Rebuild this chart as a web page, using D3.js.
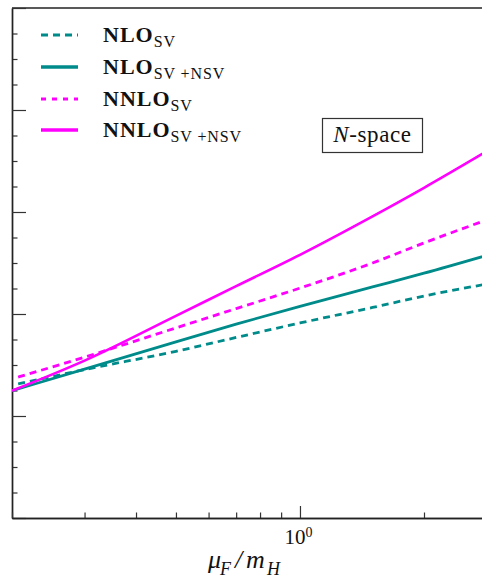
<!DOCTYPE html>
<html>
<head>
<meta charset="utf-8">
<script src="https://cdnjs.cloudflare.com/ajax/libs/d3/7.8.5/d3.min.js"></script>
<style>
body { margin: 0; background: #fff; }
svg { display: block; }
</style>
</head>
<body>
<div id="chart-area"></div>
<script>
// mu_F / m_H values where the curves were read
var muFull = [0.2, 0.3, 0.5, 0.7, 1.0, 1.5, 2.0, 3.0];
var muDash = [0.207, 0.3, 0.5, 0.7, 1.0, 1.5, 2.0, 3.0];

// series values (y axis labels are cut off in the reference, scale is relative)
var nloSV = [0.9314, 0.9455, 0.9634, 0.9770, 0.9912, 1.0064, 1.0176, 1.0311];
var nloSVNSV = [0.9248, 0.9460, 0.9727, 0.9901, 1.0075, 1.0265, 1.0400, 1.0603];
var nnloSV = [0.9382, 0.9577, 0.9864, 1.0053, 1.0254, 1.0500, 1.0697, 1.0957];
var nnloSVNSV = [0.9248, 0.9543, 0.9982, 1.0273, 1.0580, 1.0957, 1.1237, 1.1652];

var xMinorTicks = [0.2, 0.3, 0.4, 0.5, 0.6, 0.7, 0.8, 0.9, 2, 3];
var xMajorTicks = [1];
var yMajorTicks = [0.8, 0.9, 1.0, 1.1, 1.2, 1.3];
var yMinorTicks = d3.range(0.825, 1.3, 0.025).filter(function(v) {
    return Math.abs(v * 10 - Math.round(v * 10)) > 0.01;
});

var teal = "#008b8b", magenta = "#ff00ff";

var series = [
    { name: "NLO", sub: "SV", mu: muDash, vals: nloSV, color: teal, dash: "7,5", w: 2.8 },
    { name: "NLO", sub: "SV +NSV", mu: muFull, vals: nloSVNSV, color: teal, dash: null, w: 2.8 },
    { name: "NNLO", sub: "SV", mu: muDash, vals: nnloSV, color: magenta, dash: "7,5", w: 2.8 },
    { name: "NNLO", sub: "SV +NSV", mu: muFull, vals: nnloSVNSV, color: magenta, dash: null, w: 2.6 }
];

var W = 482, H = 581;
var plotLeft = 12, plotTop = 8, plotBottom = 518;
var plotRight = plotLeft + 412 * Math.log10(3 / 0.2);

var svg = d3.select("#chart-area").append("svg")
    .attr("width", W)
    .attr("height", H);

var x = d3.scaleLog().domain([0.2, 3]).range([plotLeft, plotRight]);
var y = d3.scaleLinear().domain([0.8, 1.3]).range([plotBottom, plotTop]);

svg.append("clipPath").attr("id", "plot-clip")
    .append("rect")
    .attr("x", plotLeft).attr("y", plotTop)
    .attr("width", plotRight - plotLeft).attr("height", plotBottom - plotTop);

// frame top line
svg.append("line")
    .attr("x1", plotLeft).attr("x2", plotRight)
    .attr("y1", plotTop).attr("y2", plotTop)
    .attr("stroke", "#222").attr("stroke-width", 1.4);

// y axis (labels outside the picture)
svg.append("g")
    .attr("transform", "translate(" + plotLeft + ",0)")
    .call(d3.axisLeft(y).tickValues(yMinorTicks).tickSize(-5.5).tickSizeOuter(0).tickFormat(""));
svg.append("g")
    .attr("transform", "translate(" + plotLeft + ",0)")
    .call(d3.axisLeft(y).tickValues(yMajorTicks).tickSize(-14).tickSizeOuter(0).tickFormat(""));

// x axis
svg.append("g")
    .attr("transform", "translate(0," + plotBottom + ")")
    .call(d3.axisBottom(x).tickValues(xMinorTicks).tickSize(-5.5).tickSizeOuter(0).tickFormat(""));
var xMajor = svg.append("g")
    .attr("transform", "translate(0," + plotBottom + ")")
    .call(d3.axisBottom(x).tickValues(xMajorTicks).tickSize(-12).tickSizeOuter(0).tickPadding(11).tickFormat(""));

svg.selectAll(".domain").attr("stroke", "#222").attr("stroke-width", 1.4);
svg.selectAll(".tick line").attr("stroke", "#333").attr("stroke-width", 1.2);

xMajor.selectAll(".tick text")
    .attr("font-family", "Liberation Serif, serif")
    .attr("font-size", "21px")
    .attr("fill", "#111")
    .attr("dx", "-2px")
    .text("10")
    .append("tspan")
    .attr("font-size", "14px")
    .attr("dy", "-7")
    .text("0");

// x label
var xl = svg.append("text")
    .attr("y", 568)
    .attr("font-family", "Liberation Serif, serif")
    .attr("font-style", "italic")
    .attr("font-size", "26px")
    .attr("fill", "#111");
xl.append("tspan").attr("x", 208).text("\u03bc");
xl.append("tspan").attr("x", 220).attr("font-size", "18px").attr("dy", 7).text("F");
xl.append("tspan").attr("x", 235).attr("dy", -7).text("/");
xl.append("tspan").attr("x", 246).text("m");
xl.append("tspan").attr("x", 267).attr("font-size", "18px").attr("dy", 7).text("H");

// curves
var line = d3.line()
    .curve(d3.curveMonotoneX)
    .x(function(d) { return x(d[0]); })
    .y(function(d) { return y(d[1]); });

svg.append("g").attr("clip-path", "url(#plot-clip)")
    .selectAll("path")
    .data(series)
    .enter().append("path")
    .attr("d", function(s) { return line(d3.zip(s.mu, s.vals)); })
    .attr("fill", "none")
    .attr("stroke", function(s) { return s.color; })
    .attr("stroke-width", function(s) { return s.w; })
    .attr("stroke-dasharray", function(s) { return s.dash; });

// legend
var rowY = [35, 67, 99, 130];
var leg = svg.append("g");
series.forEach(function(s, i) {
    leg.append("line")
        .attr("x1", 41).attr("x2", 78)
        .attr("y1", rowY[i]).attr("y2", rowY[i])
        .attr("stroke", s.color)
        .attr("stroke-width", s.dash ? 3 : 3.6)
        .attr("stroke-dasharray", s.dash ? (s.color === magenta ? "5,6" : "7,5") : null);
    var t = leg.append("text")
        .attr("x", 103)
        .attr("y", rowY[i] + 7)
        .attr("font-family", "Liberation Serif, serif")
        .attr("fill", "#111");
    t.append("tspan")
        .attr("font-weight", "bold")
        .attr("font-size", "22px")
        .attr("letter-spacing", "1px")
        .text(s.name);
    t.append("tspan")
        .attr("font-size", "16px")
        .attr("letter-spacing", "0.9px")
        .attr("dy", 5)
        .text(s.sub);
});

// N-space box
svg.append("rect")
    .attr("x", 322.5).attr("y", 118.5)
    .attr("width", 100).attr("height", 34)
    .attr("fill", "#fff")
    .attr("stroke", "#333").attr("stroke-width", 1.2);
var ns = svg.append("text")
    .attr("x", 372.5).attr("y", 142)
    .attr("text-anchor", "middle")
    .attr("font-family", "Liberation Serif, serif")
    .attr("font-size", "23px")
    .attr("letter-spacing", "0.6px")
    .attr("fill", "#111");
ns.append("tspan").attr("font-style", "italic").text("N");
ns.append("tspan").text("-space");
</script>
</body>
</html>
